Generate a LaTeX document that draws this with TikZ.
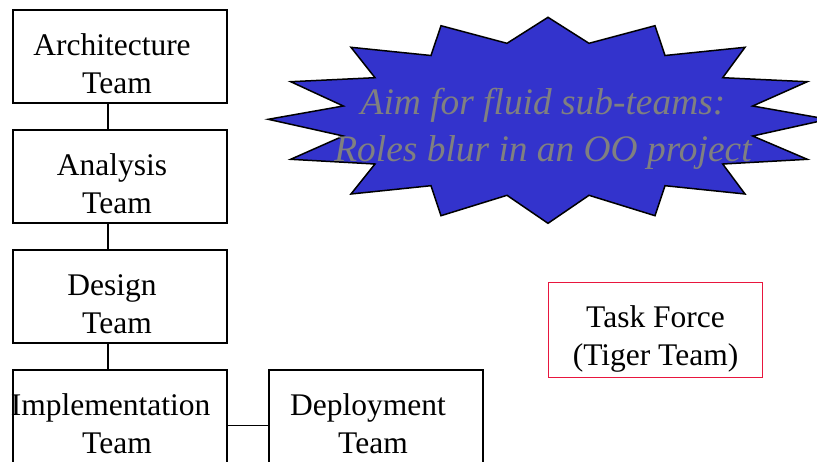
\documentclass[tikz,border=0pt]{standalone}
\usepackage{fontspec}
\setmainfont{Liberation Serif}
\definecolor{bleuetoile}{HTML}{3333CC}
\definecolor{grisetoile}{HTML}{808080}
\definecolor{rougetigre}{HTML}{E8163E}
\newcommand{\deuxlignes}[2]{#1\hspace*{16pt}\\#2\hspace*{6pt}}
\tikzset{
  equipe/.style={draw, line width=1.5pt, minimum width=214pt, minimum height=93pt,
    inner sep=0pt, align=center, font=\fontsize{31.5}{38.5}\selectfont,
    text height=80pt, text depth=6pt},
  lien/.style={line width=1.5pt}
}
\begin{document}
\begin{tikzpicture}[x=1pt, y=-1pt]
            \clip (0, 0) rectangle (817, 461); %cadre

            \node[equipe] (archi) at (120, 56.5) {\deuxlignes{Architecture}{Team}}; %boite archi
            \node[equipe] (analyse) at (120, 176.5) {\deuxlignes{Analysis}{Team}};
            \node[equipe] (design) at (120, 296.5) {\deuxlignes{Design}{Team}};
            \node[equipe] (implem) at (120, 416.5) {\deuxlignes{\hspace*{-3pt}Implementation}{Team}}; %texte plus large que la boite
            \node[equipe] (deploi) at (376, 416.5) {\deuxlignes{Deployment}{Team}};

            \draw[lien] ([xshift=-12pt]archi.south) -- ([xshift=-12pt]analyse.north); %archi -> analyse
            \draw[lien] ([xshift=-12pt]analyse.south) -- ([xshift=-12pt]design.north);
            \draw[lien] ([xshift=-12pt]design.south) -- ([xshift=-12pt]implem.north);
            \draw[lien] ([yshift=-9pt]implem.east) -- ([yshift=-9pt]deploi.west); %implem -> deploi

            \node[equipe, draw=rougetigre, minimum height=95pt, text height=77.5pt] (tigre) at (655.5, 330) {Task Force\\(Tiger Team)}; %task force

            % etoile
            \draw[line width=1.5pt, fill=bleuetoile] (548, 17.3) -- (589, 43.3) -- (655, 25.7) -- (665, 55.5)
              -- (745, 47.3) -- (722.7, 77.7) -- (807.3, 81.7) -- (752.7, 106) -- (828, 119.3)
              -- (752.7, 136) -- (807.3, 159.3) -- (722.7, 164) -- (745, 194) -- (665, 185.7)
              -- (655, 215.7) -- (589, 195.3) -- (548, 223.3) -- (507, 195.3) -- (441, 215.7)
              -- (431, 185.7) -- (351, 194) -- (375, 164) -- (290.7, 159.3) -- (343.3, 136)
              -- (268.3, 119.3) -- (343.3, 106) -- (290.7, 81.7) -- (375, 77.7) -- (351, 47.3)
              -- (431, 55.5) -- (441, 25.7) -- (507, 43.3) -- cycle;
            \node[align=center, text=grisetoile, font=\fontsize{37.4}{47}\selectfont\itshape] (devise) at (543, 129)
              {Aim for fluid sub-teams:\\Roles blur in an OO project}; %texte etoile
\end{tikzpicture}
\end{document}
